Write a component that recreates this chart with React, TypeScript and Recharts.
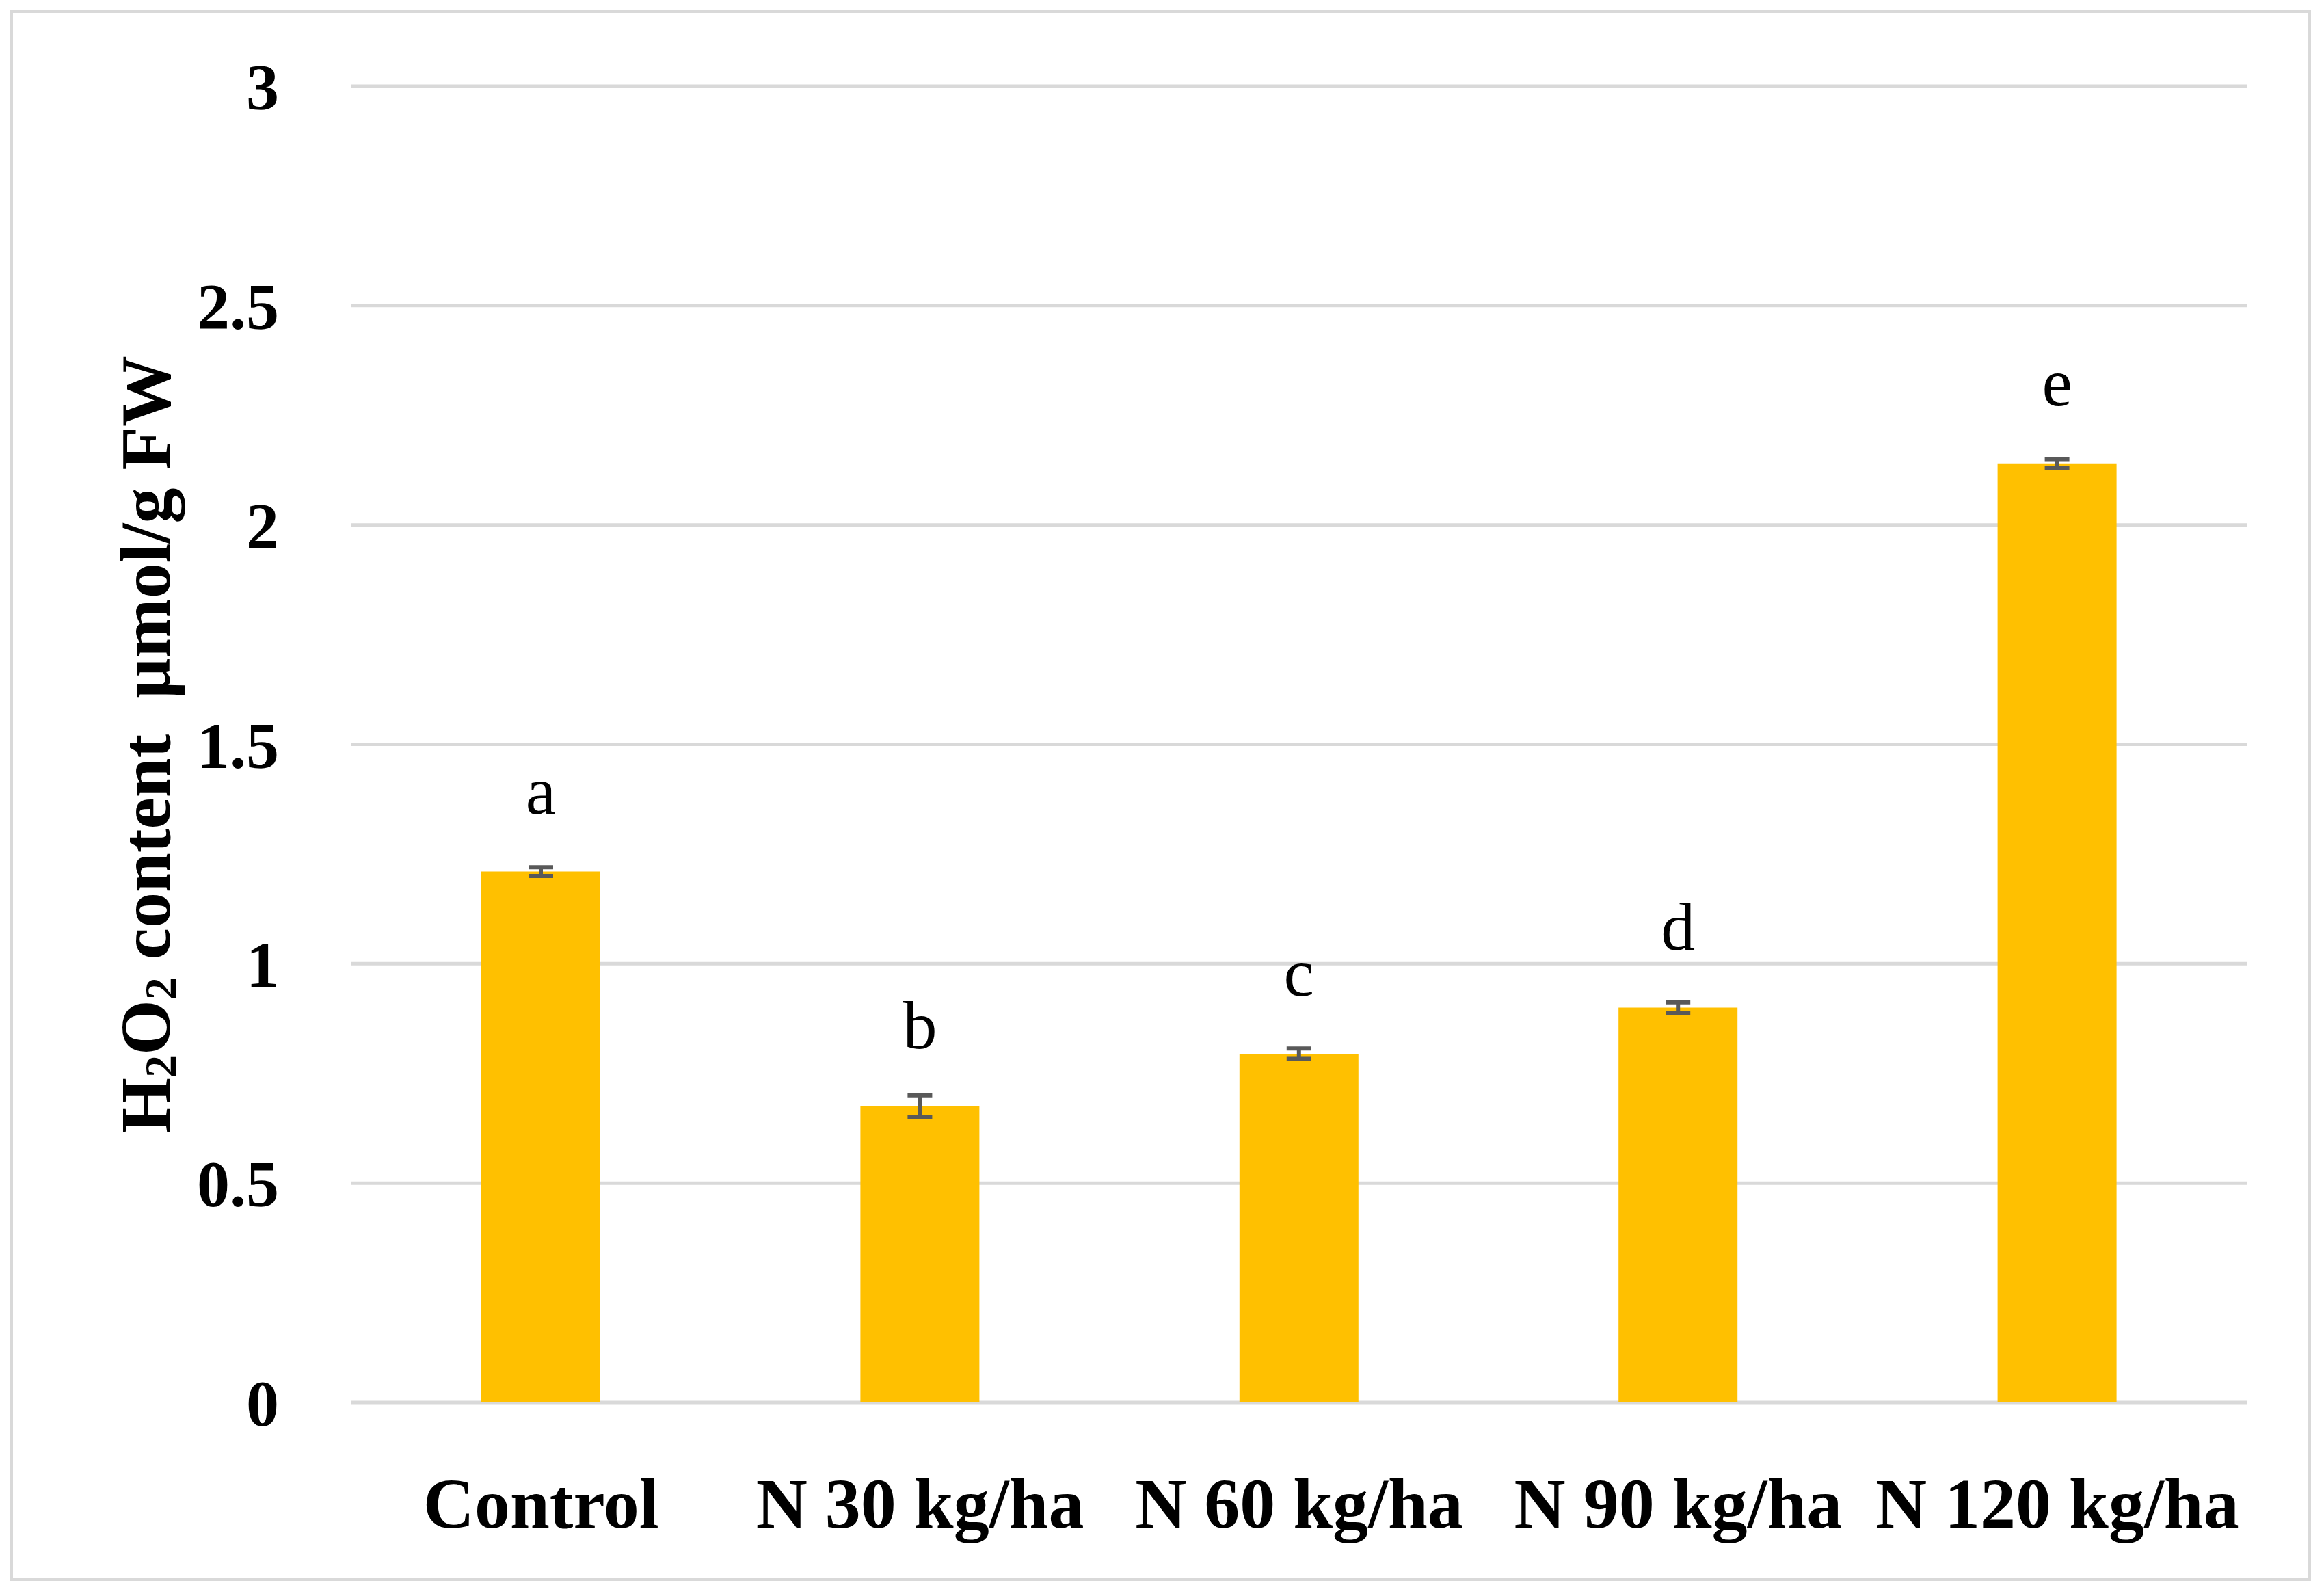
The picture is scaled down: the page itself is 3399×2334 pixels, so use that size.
import React from 'react';
import {
  BarChart,
  Bar,
  XAxis,
  YAxis,
  CartesianGrid,
  ErrorBar,
  LabelList,
  Label
} from 'recharts';

const treatments = ['Control', 'N 30 kg/ha', 'N 60 kg/ha', 'N 90 kg/ha', 'N 120 kg/ha'];
const h2o2 = [1.21, 0.675, 0.795, 0.90, 2.14];
const h2o2Err = [0.01, 0.025, 0.012, 0.012, 0.01];
const letters = ['a', 'b', 'c', 'd', 'e'];
const yTicks = [0, 0.5, 1, 1.5, 2, 2.5, 3];

const data = treatments.map((name, i) => ({
  name,
  value: h2o2[i],
  err: h2o2Err[i],
  letter: letters[i]
}));

const FONT = '"Liberation Serif", "Times New Roman", serif';

const renderLetter = (props: any) => {
  const { x, y, width, value } = props;
  return (
    <text
      x={x + width / 2}
      y={y - 85}
      textAnchor="middle"
      fontFamily={FONT}
      fontSize={100}
      fill="#000"
    >
      {value}
    </text>
  );
};

const renderYLabel = (props: any) => {
  const { viewBox } = props;
  const cx = viewBox.x + 212;
  const cy = viewBox.y + viewBox.height / 2;
  return (
    <text
      x={cx}
      y={cy}
      transform={`rotate(-90, ${cx}, ${cy})`}
      textAnchor="middle"
      dominantBaseline="central"
      fontFamily={FONT}
      fontWeight="bold"
      fontSize={104}
      fill="#000"
    >
      H
      <tspan dy={22} fontSize={66}>2</tspan>
      <tspan dy={-22}>O</tspan>
      <tspan dy={22} fontSize={66}>2</tspan>
      <tspan dy={-22}>{' content \u00a0\u00b5mol/g FW'}</tspan>
    </text>
  );
};

export default function App() {
  return (
    <div
      style={{
        position: 'absolute',
        left: 0,
        top: 0,
        width: 3399,
        height: 2334,
        background: '#fff'
      }}
    >
      <div
        style={{
          position: 'absolute',
          left: 14,
          top: 14,
          width: 3366,
          height: 2298,
          border: '5px solid #d9d9d9',
          boxSizing: 'border-box'
        }}
      />
      <div style={{ position: 'absolute', left: 0, top: 0 }}>
        <BarChart
          width={3399}
          height={2334}
          data={data}
          margin={{ top: 126, right: 113, left: 0, bottom: 0 }}
        >
          <CartesianGrid
            vertical={false}
            stroke="#d9d9d9"
            strokeWidth={5}
          />
          <XAxis
            dataKey="name"
            height={283}
            axisLine={false}
            tickLine={false}
            tickSize={0}
            tickMargin={109}
            interval={0}
            tick={{
              fontFamily: FONT,
              fontWeight: 'bold',
              fontSize: 104,
              fill: '#000'
            }}
          />
          <YAxis
            width={514}
            domain={[0, 3]}
            ticks={yTicks}
            axisLine={false}
            tickLine={false}
            tickSize={0}
            tickMargin={106}
            tick={{
              fontFamily: FONT,
              fontWeight: 'bold',
              fontSize: 96,
              fill: '#000'
            }}
          >
            <Label content={renderYLabel} />
          </YAxis>
          <Bar
            dataKey="value"
            fill="#FFC000"
            barSize={174}
            isAnimationActive={false}
          >
            <ErrorBar
              dataKey="err"
              width={18}
              stroke="#595959"
              strokeWidth={6}
            />
            <LabelList dataKey="letter" content={renderLetter} />
          </Bar>
        </BarChart>
      </div>
    </div>
  );
}
